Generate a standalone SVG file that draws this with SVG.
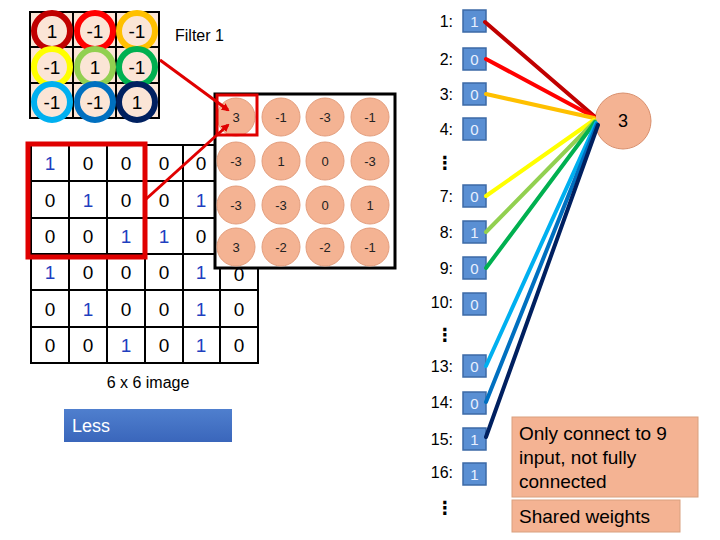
<svg xmlns="http://www.w3.org/2000/svg" width="720" height="540" viewBox="0 0 720 540">
<defs>
<style>
text{font-family:"Liberation Sans","DejaVu Sans",sans-serif;}
.ft{font-size:19px;text-anchor:middle;dominant-baseline:central;fill:#000;}
.ring{fill:#fbe5d6;stroke-width:6;}
.gl{stroke:#000;stroke-width:2;fill:none;}
.oc{fill:#f4b393;stroke:#e39d7c;stroke-width:1;}
.ot{font-size:13px;text-anchor:middle;dominant-baseline:central;fill:#222;}
.im{font-size:19px;text-anchor:middle;dominant-baseline:central;fill:#000;}
.b{fill:#1f3fbf;}
.lab{font-size:16px;text-anchor:end;dominant-baseline:central;fill:#000;}
.dots{font-size:18px;font-weight:bold;text-anchor:middle;dominant-baseline:central;fill:#000;}
.ib{fill:#5a8fd3;stroke:#3c6aa6;stroke-width:1.5;}
.it{font-size:15px;text-anchor:middle;dominant-baseline:central;fill:#e8f0ff;}
.cn{stroke-width:4;fill:none;stroke-linecap:round;}
.note{fill:#f4b393;stroke:#d9a07e;stroke-width:1;}
.nt{font-size:19px;fill:#000;}
</style>
<marker id="ah" markerWidth="8" markerHeight="8" refX="6" refY="4" orient="auto" markerUnits="userSpaceOnUse" viewBox="0 0 8 8">
<path d="M0,0 L8,4 L0,8 z" fill="#e00000"/>
</marker>
<linearGradient id="lessg" x1="0" y1="0" x2="0" y2="1">
<stop offset="0" stop-color="#4f7fce"/>
<stop offset="1" stop-color="#3a66bb"/>
</linearGradient>
</defs>
<rect width="720" height="540" fill="#fff"/>

<!-- Filter 1 -->
<g id="filter">
<rect x="30" y="12" width="129" height="106" fill="#fbe5d6"/>
<path class="gl" d="M30,12H159V118H30Z M73,12V118 M116,12V118 M30,47H159 M30,83H159"/>
<circle class="ring" cx="52" cy="31" r="18" stroke="#c00000"/>
<circle class="ring" cx="95" cy="31" r="18" stroke="#ff0000"/>
<circle class="ring" cx="137" cy="31" r="18" stroke="#ffc000"/>
<circle class="ring" cx="52" cy="67" r="18" stroke="#ffff00"/>
<circle class="ring" cx="95" cy="67" r="18" stroke="#92d050"/>
<circle class="ring" cx="137" cy="67" r="18" stroke="#00b050"/>
<circle class="ring" cx="52" cy="102" r="18" stroke="#00b0f0"/>
<circle class="ring" cx="95" cy="102" r="18" stroke="#0070c0"/>
<circle class="ring" cx="137" cy="102" r="18" stroke="#002060"/>
<text class="ft" x="52" y="31">1</text>
<text class="ft" x="95" y="31">-1</text>
<text class="ft" x="137" y="31">-1</text>
<text class="ft" x="52" y="67">-1</text>
<text class="ft" x="95" y="67">1</text>
<text class="ft" x="137" y="67">-1</text>
<text class="ft" x="52" y="102">-1</text>
<text class="ft" x="95" y="102">-1</text>
<text class="ft" x="137" y="102">1</text>
</g>
<text id="filter-label" x="175" y="41" style="font-size:16px">Filter 1</text>

<!-- 6x6 image -->
<g id="image">
<path class="gl" d="M31,145H258V363H31Z M69,145V363 M107,145V363 M145,145V363 M183,145V363 M220,145V363 M31,181H258 M31,218H258 M31,254H258 M31,290H258 M31,327H258"/>
<g>
<text class="im b" x="50" y="163">1</text><text class="im" x="88" y="163">0</text><text class="im" x="126" y="163">0</text><text class="im" x="164" y="163">0</text><text class="im" x="201" y="163">0</text>
<text class="im" x="50" y="200">0</text><text class="im b" x="88" y="200">1</text><text class="im" x="126" y="200">0</text><text class="im" x="164" y="200">0</text><text class="im b" x="201" y="200">1</text>
<text class="im" x="50" y="236">0</text><text class="im" x="88" y="236">0</text><text class="im b" x="126" y="236">1</text><text class="im b" x="164" y="236">1</text><text class="im" x="201" y="236">0</text>
<text class="im b" x="50" y="272">1</text><text class="im" x="88" y="272">0</text><text class="im" x="126" y="272">0</text><text class="im" x="164" y="272">0</text><text class="im b" x="201" y="272">1</text><text class="im" x="239" y="274">0</text>
<text class="im" x="50" y="309">0</text><text class="im b" x="88" y="309">1</text><text class="im" x="126" y="309">0</text><text class="im" x="164" y="309">0</text><text class="im b" x="201" y="309">1</text><text class="im" x="239" y="309">0</text>
<text class="im" x="50" y="345">0</text><text class="im" x="88" y="345">0</text><text class="im b" x="126" y="345">1</text><text class="im" x="164" y="345">0</text><text class="im b" x="201" y="345">1</text><text class="im" x="239" y="345">0</text>
</g>
<rect x="28" y="144" width="117" height="113" fill="none" stroke="#e00000" stroke-width="5"/>
</g>
<text id="image-label" x="148" y="388" style="font-size:16px" text-anchor="middle">6 x 6 image</text>

<!-- feature map -->
<g id="featuremap">
<rect x="215" y="94" width="180" height="174" fill="#fff" stroke="#000" stroke-width="3"/>
<circle class="oc" cx="236" cy="117" r="19"/><circle class="oc" cx="281" cy="117" r="19"/><circle class="oc" cx="325" cy="117" r="19"/><circle class="oc" cx="370" cy="117" r="19"/>
<circle class="oc" cx="236" cy="161" r="19"/><circle class="oc" cx="281" cy="161" r="19"/><circle class="oc" cx="325" cy="161" r="19"/><circle class="oc" cx="370" cy="161" r="19"/>
<circle class="oc" cx="236" cy="205" r="19"/><circle class="oc" cx="281" cy="205" r="19"/><circle class="oc" cx="325" cy="205" r="19"/><circle class="oc" cx="370" cy="205" r="19"/>
<circle class="oc" cx="236" cy="247" r="19"/><circle class="oc" cx="281" cy="247" r="19"/><circle class="oc" cx="325" cy="247" r="19"/><circle class="oc" cx="370" cy="247" r="19"/>
<text class="ot" x="236" y="117">3</text><text class="ot" x="281" y="117">-1</text><text class="ot" x="325" y="117">-3</text><text class="ot" x="370" y="117">-1</text>
<text class="ot" x="236" y="161">-3</text><text class="ot" x="281" y="161">1</text><text class="ot" x="325" y="161">0</text><text class="ot" x="370" y="161">-3</text>
<text class="ot" x="236" y="205">-3</text><text class="ot" x="281" y="205">-3</text><text class="ot" x="325" y="205">0</text><text class="ot" x="370" y="205">1</text>
<text class="ot" x="236" y="247">3</text><text class="ot" x="281" y="247">-2</text><text class="ot" x="325" y="247">-2</text><text class="ot" x="370" y="247">-1</text>
<rect x="217" y="95" width="40" height="40" fill="none" stroke="#e00000" stroke-width="3"/>
</g>

<!-- Less box -->
<g id="less">
<rect x="64" y="409" width="168" height="33" fill="url(#lessg)"/>
<text x="72" y="432" style="font-size:18px" fill="#fff">Less</text>
</g>

<!-- inputs -->
<g id="inputs">
<text class="lab" x="453" y="21">1:</text><rect class="ib" x="463" y="10" width="23" height="22"/><text class="it" x="474.5" y="21">1</text>
<text class="lab" x="453" y="59">2:</text><rect class="ib" x="463" y="48" width="23" height="22"/><text class="it" x="474.5" y="59">0</text>
<text class="lab" x="453" y="94">3:</text><rect class="ib" x="463" y="83" width="23" height="22"/><text class="it" x="474.5" y="94">0</text>
<text class="lab" x="453" y="129">4:</text><rect class="ib" x="463" y="118" width="23" height="22"/><text class="it" x="474.5" y="129">0</text>
<text class="dots" x="445" y="163">⋮</text>
<text class="lab" x="453" y="196">7:</text><rect class="ib" x="463" y="185" width="23" height="22"/><text class="it" x="474.5" y="196">0</text>
<text class="lab" x="453" y="232">8:</text><rect class="ib" x="463" y="221" width="23" height="22"/><text class="it" x="474.5" y="232">1</text>
<text class="lab" x="453" y="268">9:</text><rect class="ib" x="463" y="257" width="23" height="22"/><text class="it" x="474.5" y="268">0</text>
<text class="lab" x="453" y="302">10:</text><rect class="ib" x="463" y="293" width="23" height="22"/><text class="it" x="474.5" y="304">0</text>
<text class="dots" x="445" y="335">⋮</text>
<text class="lab" x="453" y="366">13:</text><rect class="ib" x="463" y="355" width="23" height="22"/><text class="it" x="474.5" y="366">0</text>
<text class="lab" x="453" y="402">14:</text><rect class="ib" x="463" y="392" width="23" height="22"/><text class="it" x="474.5" y="403">0</text>
<text class="lab" x="453" y="439">15:</text><rect class="ib" x="463" y="428" width="23" height="22"/><text class="it" x="474.5" y="439">1</text>
<text class="lab" x="453" y="472">16:</text><rect class="ib" x="463" y="463" width="23" height="22"/><text class="it" x="474.5" y="474">1</text>
<text class="dots" x="445" y="508">⋮</text>
</g>

<!-- output node -->
<g id="node3">
<circle cx="623" cy="121" r="28" fill="#f4b393" stroke="#d9906e" stroke-width="1"/>
<text x="623" y="121" style="font-size:18px" text-anchor="middle" dominant-baseline="central">3</text>
</g>

<!-- connectors -->
<g id="connectors">
<line x1="160" y1="60" x2="228" y2="110" stroke="#e00000" stroke-width="3" marker-end="url(#ah)"/>
<line x1="145" y1="200" x2="228" y2="125" stroke="#e00000" stroke-width="3" marker-end="url(#ah)"/>
<line class="cn" x1="485" y1="22" x2="594" y2="116" stroke="#c00000"/>
<line class="cn" x1="486" y1="59" x2="594" y2="117" stroke="#ff0000"/>
<line class="cn" x1="486" y1="94" x2="594" y2="118" stroke="#ffc000"/>
<line class="cn" x1="486" y1="196" x2="594" y2="120" stroke="#ffff00"/>
<line class="cn" x1="486" y1="232" x2="595" y2="121" stroke="#92d050"/>
<line class="cn" x1="486" y1="268" x2="595" y2="122" stroke="#00b050"/>
<line class="cn" x1="486" y1="366" x2="596" y2="123" stroke="#00b0f0"/>
<line class="cn" x1="486" y1="402" x2="597" y2="124" stroke="#0070c0"/>
<line class="cn" x1="486" y1="437" x2="598" y2="125" stroke="#002060"/>
</g>

<!-- notes -->
<g id="note1">
<rect class="note" x="512" y="417" width="186" height="80"/>
<text class="nt" x="519" y="440">Only connect to 9</text>
<text class="nt" x="519" y="464">input, not fully</text>
<text class="nt" x="519" y="488">connected</text>
</g>
<g id="note2">
<rect class="note" x="512" y="500" width="168" height="32"/>
<text class="nt" x="519" y="523">Shared weights</text>
</g>
</svg>
